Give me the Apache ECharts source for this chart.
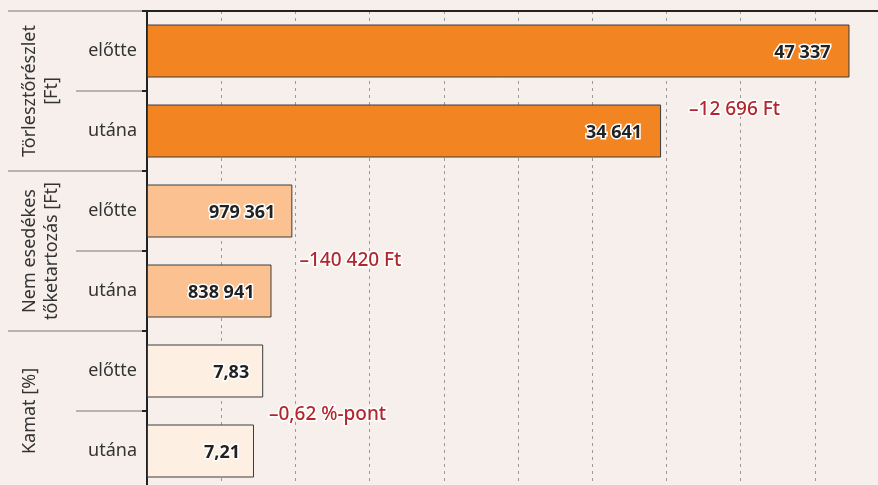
<!DOCTYPE html>
<html>
<head>
<meta charset="utf-8">
<script src="https://cdn.jsdelivr.net/npm/echarts@6/dist/echarts.min.js"></script>
<style>
html, body { margin: 0; padding: 0; background: #f6efec; overflow: hidden; }
/* the original figure is cut off at the right and bottom edge */
#chartContainer { width: 889px; height: 491px; }
</style>
</head>
<body>
<div id="chartContainer"></div>
<script>
// data
const categories = ['előtte', 'utána']
const groupNames = ['Törlesztőrészlet\n[Ft]', 'Nem esedékes\ntőketartozás [Ft]', 'Kamat [%]']
const installment = [47337, 34641]
const principal = [979361, 838941]
const interest = [7.83, 7.21]
const decimals = [0, 0, 2]
const diffUnits = ['Ft', 'Ft', '%-pont']
// each block has its own scale, same pixel length
const axisMax = [50000, 5000000, 50]
const axisStep = [5000, 500000, 5]

const groups = [installment, principal, interest]

// styles
const FONT = 'Noto Sans'
const TOP = 11
const ROW = 80
const LEFT = 147
const barColors = ['#f28522', '#fbc191', '#fdefe2']
const valueLabelDist = [19, 17, 14]
const diffLabelDist = [28, 28, 15]
const diffLabelDy = [-21, -30, -36]

const fmt = (v, dec) => {
  const parts = Math.abs(v).toFixed(dec).split('.')
  const int = parts[0].replace(/\B(?=(\d{3})+(?!\d))/g, ' ')
  return parts[1] ? int + ',' + parts[1] : int
}

const diffText = (i) => {
  const vals = groups[i]
  const d = vals[1] - vals[0]
  return (d < 0 ? '–' : '+') + fmt(d, decimals[i]) + ' ' + diffUnits[i]
}

const grid = groups.map((g, i) => ({
  left: LEFT,
  top: TOP + i * 2 * ROW,
  right: 0,
  height: 2 * ROW
}))

const xAxis = groups.map((g, i) => ({
  gridIndex: i,
  type: 'value',
  min: 0,
  max: axisMax[i],
  interval: axisStep[i],
  position: 'top',
  axisLine: { show: i === 0, lineStyle: { color: '#222', width: 2 } },
  axisTick: { show: false },
  axisLabel: { show: false },
  splitLine: { show: true, lineStyle: { color: '#9a9a9a', type: [3, 4], width: 1 } }
}))

const yAxis = groups.map((g, i) => ({
  gridIndex: i,
  type: 'category',
  inverse: true,
  data: categories,
  axisLine: { show: true, lineStyle: { color: '#222', width: 2 } },
  axisTick: { show: true, length: 5, lineStyle: { color: '#222', width: 2 } },
  axisLabel: { fontFamily: FONT, fontSize: 18, color: '#333', margin: 10 }
}))

const series = []
groups.forEach((vals, i) => {
  series.push({
    type: 'bar',
    xAxisIndex: i,
    yAxisIndex: i,
    data: vals,
    barWidth: 53,
    barGap: '-100%',
    itemStyle: { color: barColors[i], borderColor: '#3c3c3c', borderWidth: 1 },
    label: {
      show: true,
      position: 'insideRight',
      distance: valueLabelDist[i],
      offset: [0, 2],
      formatter: (p) => fmt(p.value, decimals[i]),
      fontFamily: FONT,
      fontSize: 18,
      fontWeight: 'bold',
      color: '#222',
      textBorderColor: '#fff',
      textBorderWidth: 3
    }
  })
  // difference note next to the "utána" bar
  series.push({
    type: 'bar',
    xAxisIndex: i,
    yAxisIndex: i,
    data: ['-', vals[1]],
    barWidth: 53,
    barGap: '-100%',
    itemStyle: { color: 'transparent' },
    label: {
      show: true,
      position: 'right',
      distance: diffLabelDist[i],
      offset: [0, diffLabelDy[i]],
      formatter: () => diffText(i),
      fontFamily: FONT,
      fontSize: 19,
      fontWeight: 500,
      color: '#b0282e',
      textBorderColor: '#fff',
      textBorderWidth: 3
    }
  })
})

const graphic = []
groups.forEach((vals, i) => {
  const y0 = TOP + i * 2 * ROW
  graphic.push({
    type: 'line',
    shape: { x1: 8, y1: y0, x2: LEFT - 5, y2: y0 },
    style: { stroke: '#a0a0a0', lineWidth: 1.5 },
    silent: true
  })
  graphic.push({
    type: 'line',
    shape: { x1: 76, y1: y0 + ROW, x2: LEFT - 5, y2: y0 + ROW },
    style: { stroke: '#a0a0a0', lineWidth: 1.5 },
    silent: true
  })
  graphic.push({
    type: 'text',
    x: 19,
    y: y0 + ROW,
    rotation: Math.PI / 2,
    silent: true,
    style: {
      text: groupNames[i],
      font: '18px "' + FONT + '"',
      fill: '#333',
      align: 'center',
      verticalAlign: 'top',
      lineHeight: 22
    }
  })
})

const chart = echarts.init(document.getElementById('chartContainer'))
chart.setOption({
  backgroundColor: '#f6efec',
  animation: false,
  grid,
  xAxis,
  yAxis,
  series,
  graphic
})
</script>
</body>
</html>
